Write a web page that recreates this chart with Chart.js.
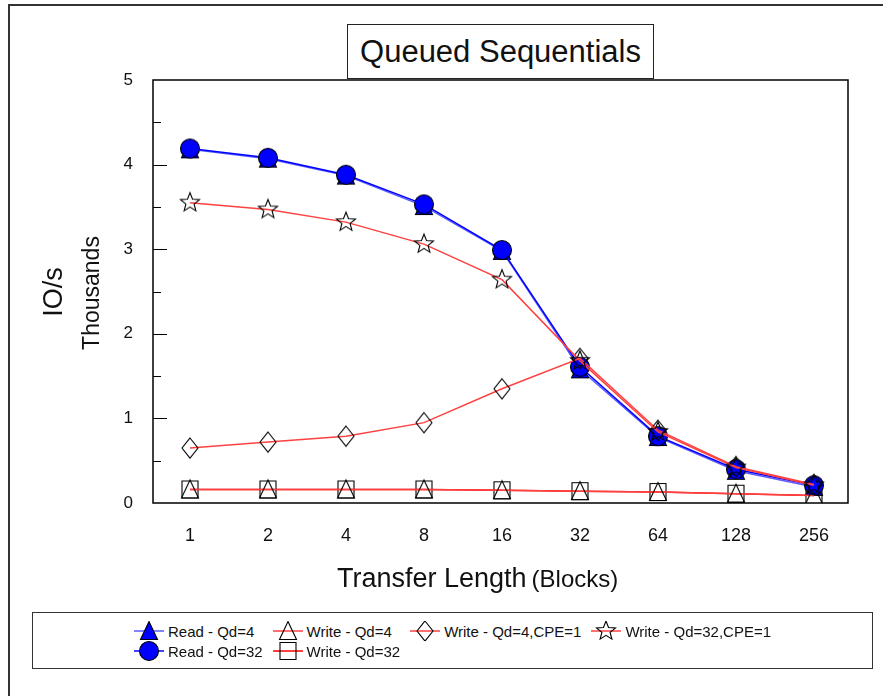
<!DOCTYPE html>
<html>
<head>
<meta charset="utf-8">
<script src="https://cdn.jsdelivr.net/npm/chart.js@4.4.0/dist/chart.umd.min.js"></script>
<style>
html,body{margin:0;padding:0;background:#fff;overflow:hidden;}
body{width:883px;height:696px;position:relative;font-family:"Liberation Sans",Arial,sans-serif;color:#111;}
#moldura{position:absolute;left:8px;top:4px;width:1000px;height:1000px;border-left:2px solid #333;border-top:2px solid #333;}
#grafico{position:absolute;left:0;top:0;}
#titulo{position:absolute;left:347px;top:24px;width:305px;height:53px;border:1px solid #222;background:#fff;font-size:31px;line-height:53px;text-align:center;}
#legenda{position:absolute;left:32px;top:612px;width:839px;height:55px;border:1.5px solid #333;background:#fff;}
#itens{display:grid;grid-template-columns:repeat(4,auto);column-gap:10px;justify-content:center;padding-top:8px;}
.item{display:flex;align-items:center;height:20px;font-size:15px;white-space:nowrap;}
.item canvas{margin-right:4px;}
</style>
</head>
<body>
<div id="moldura"></div>
<canvas id="grafico" width="883" height="696"></canvas>
<div id="titulo">Queued Sequentials</div>
<div id="legenda"><div id="itens"></div></div>
<script>
// dados (milhares de IO/s)
const categorias = ["1","2","4","8","16","32","64","128","256"];
const readQd4 = [4.18, 4.07, 3.87, 3.51, 2.98, 1.58, 0.78, 0.38, 0.19];
const readQd32 = [4.19, 4.08, 3.88, 3.53, 2.99, 1.61, 0.79, 0.40, 0.21];
const writeQd4 = [0.16, 0.16, 0.16, 0.16, 0.15, 0.14, 0.13, 0.11, 0.09];
const writeQd32 = [0.16, 0.16, 0.16, 0.16, 0.15, 0.14, 0.13, 0.11, 0.09];
const writeQd4Cpe = [0.65, 0.72, 0.79, 0.95, 1.35, 1.71, 0.86, 0.43, 0.22];
const writeQd32Cpe = [3.55, 3.47, 3.32, 3.06, 2.64, 1.68, 0.84, 0.42, 0.21];
const yTicks = [0, 1, 2, 3, 4, 5];

const AZUL = "#0000ff", AZUL_CLARO = "#5a5aff", VERMELHO = "#ff0000", VERMELHO_CLARO = "#ff4040";

function marcador(tipo, preenchido){
  const c = document.createElement("canvas"); c.width = 24; c.height = 24;
  const g = c.getContext("2d"); g.translate(12,12);
  g.beginPath();
  if(tipo==="circulo") g.arc(0,0,9.5,0,Math.PI*2);
  if(tipo==="triangulo"){ g.moveTo(0,-9.5); g.lineTo(8.5,8.5); g.lineTo(-8.5,8.5); g.closePath(); }
  if(tipo==="quadrado") g.rect(-8,-8.5,16,17);
  if(tipo==="losango"){ g.moveTo(0,-10); g.lineTo(8,0); g.lineTo(0,10); g.lineTo(-8,0); g.closePath(); }
  if(tipo==="estrela"){
    for(let i=0;i<10;i++){
      const r = i%2 ? 4.3 : 10, a = -Math.PI/2 + i*Math.PI/5;
      const px = Math.cos(a)*r, py = Math.sin(a)*r;
      i ? g.lineTo(px,py) : g.moveTo(px,py);
    }
    g.closePath();
  }
  if(preenchido){ g.fillStyle = preenchido; g.fill(); }
  g.lineWidth = 1.1; g.strokeStyle = "#000"; g.stroke();
  return c;
}

// ordem da legenda
const series = [
  {nome:"Read - Qd=4", dados:readQd4, cor:AZUL_CLARO, mk:marcador("triangulo",AZUL), ordem:4},
  {nome:"Write - Qd=4", dados:writeQd4, cor:VERMELHO_CLARO, mk:marcador("triangulo",null), ordem:3},
  {nome:"Write - Qd=4,CPE=1", dados:writeQd4Cpe, cor:VERMELHO_CLARO, mk:marcador("losango",null), ordem:1},
  {nome:"Write - Qd=32,CPE=1", dados:writeQd32Cpe, cor:VERMELHO_CLARO, mk:marcador("estrela",null), ordem:0},
  {nome:"Read - Qd=32", dados:readQd32, cor:AZUL, mk:marcador("circulo",AZUL), ordem:2},
  {nome:"Write - Qd=32", dados:writeQd32, cor:VERMELHO, mk:marcador("quadrado",null), ordem:5}
];

const itens = document.getElementById("itens");
series.forEach(s=>{
  const d = document.createElement("div"); d.className = "item";
  const ic = document.createElement("canvas"); ic.width = 30; ic.height = 20;
  const g = ic.getContext("2d");
  g.strokeStyle = s.cor; g.lineWidth = 1.5;
  g.beginPath(); g.moveTo(0,10); g.lineTo(30,10); g.stroke();
  g.drawImage(s.mk, 3, -2);
  d.appendChild(ic);
  d.appendChild(document.createTextNode(s.nome));
  itens.appendChild(d);
});

const datasets = series.slice().sort((a,b)=>a.ordem-b.ordem).map(s=>({
  label: s.nome,
  data: s.dados.map((v,i)=>({x:i, y:v})),
  borderColor: s.cor,
  borderWidth: 1.5,
  pointStyle: s.mk,
  pointRadius: 9,
  tension: 0,
  fill: false
}));

const FONTE = '"Liberation Sans", Arial, sans-serif';

const molduraPlot = {
  id: "molduraPlot",
  beforeDatasetsDraw(chart){
    const {ctx, chartArea:a, scales:{y}} = chart;
    ctx.save();
    ctx.strokeStyle = "#000"; ctx.lineWidth = 1.5;
    ctx.strokeRect(a.left, a.top, a.right-a.left, a.bottom-a.top);
    ctx.lineWidth = 1;
    y.ticks.forEach(t=>{
      if(t.value<=0 || t.value>=5) return;
      const py = Math.round(y.getPixelForValue(t.value)) + 0.5;
      const len = Number.isInteger(t.value) ? 14 : 8;
      ctx.beginPath(); ctx.moveTo(a.left, py); ctx.lineTo(a.left+len, py); ctx.stroke();
    });
    ctx.restore();
  },
  afterDraw(chart){
    const ctx = chart.ctx;
    ctx.save();
    ctx.fillStyle = "#111"; ctx.textAlign = "center"; ctx.textBaseline = "middle";
    ctx.save(); ctx.translate(55,292); ctx.rotate(-Math.PI/2);
    ctx.font = "27px " + FONTE; ctx.fillText("IO/s",0,0); ctx.restore();
    ctx.save(); ctx.translate(93,293); ctx.rotate(-Math.PI/2);
    ctx.font = "23px " + FONTE; ctx.fillText("Thousands",0,0); ctx.restore();
    // titulo do eixo x em duas partes
    ctx.textAlign = "left"; ctx.textBaseline = "alphabetic";
    ctx.font = "27px " + FONTE; const w1 = ctx.measureText("Transfer Length").width;
    const x0 = 337;
    ctx.fillText("Transfer Length", x0, 587);
    ctx.font = "24px " + FONTE; ctx.fillText("(Blocks)", x0 + w1 + 5, 587);
    ctx.restore();
  }
};

new Chart(document.getElementById("grafico"), {
  type: "line",
  data: { datasets },
  options: {
    responsive: false,
    animation: false,
    layout: { padding: { top: 80, right: 35, left: 0, bottom: 0 } },
    plugins: { legend: { display: false }, tooltip: { enabled: false }, title: { display: false } },
    scales: {
      x: {
        type: "linear",
        min: -0.474, max: 8.436,
        afterBuildTicks: s => { s.ticks = categorias.map((c,i)=>({value:i})); },
        afterFit: s => { s.height = 193; },
        grid: { display: false, drawTicks: false },
        border: { display: false },
        ticks: { callback: v => categorias[Math.round(v)], font: { size: 18, family: FONTE }, color: "#111", padding: 22, maxRotation: 0, autoSkip: false }
      },
      y: {
        min: 0, max: 5,
        afterBuildTicks: s => { s.ticks = yTicks.flatMap(v => v < 5 ? [{value:v},{value:v+0.5}] : [{value:v}]); },
        afterFit: s => { s.width = 153; },
        grid: { display: false, drawTicks: false },
        border: { display: false },
        ticks: { callback: v => yTicks.includes(v) ? String(v) : "", font: { size: 17, family: FONTE }, color: "#111", padding: 20 }
      }
    }
  },
  plugins: [molduraPlot]
});
</script>
</body>
</html>
